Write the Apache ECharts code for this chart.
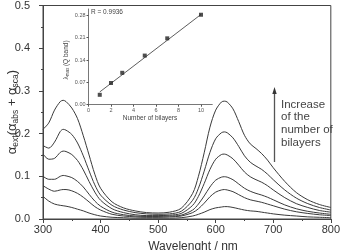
<!DOCTYPE html>
<html><head><meta charset="utf-8">
<script src="https://cdn.jsdelivr.net/npm/echarts@6/dist/echarts.min.js"></script>
<style>html,body{margin:0;padding:0;background:#fff}#c{width:343px;height:250px}</style>
</head><body><div id="c"></div>
<script>
var wavelengths = [300,310,320,330,335,340,350,360,370,380,390,400,420,440,460,480,500,520,540,560,570,580,590,600,610,615,620,630,640,650,660,670,680,690,700,720,740,760,780,800];
var curve1 = [0.053,0.042,0.035,0.032,0.031,0.030,0.027,0.023,0.019,0.014,0.010,0.007,0.004,0.003,0.002,0.002,0.002,0.002,0.003,0.007,0.011,0.016,0.022,0.026,0.028,0.029,0.029,0.027,0.024,0.021,0.019,0.018,0.016,0.014,0.012,0.009,0.007,0.005,0.004,0.003];
var curve2 = [0.078,0.070,0.065,0.068,0.069,0.069,0.066,0.060,0.051,0.040,0.029,0.021,0.011,0.007,0.005,0.004,0.004,0.005,0.007,0.015,0.024,0.037,0.052,0.063,0.068,0.069,0.068,0.064,0.057,0.050,0.045,0.042,0.039,0.035,0.031,0.023,0.017,0.013,0.010,0.008];
var curve3 = [0.100,0.093,0.093,0.100,0.102,0.101,0.097,0.088,0.075,0.058,0.042,0.030,0.016,0.010,0.007,0.006,0.006,0.007,0.009,0.021,0.035,0.054,0.075,0.091,0.098,0.099,0.098,0.092,0.082,0.072,0.065,0.060,0.056,0.051,0.045,0.033,0.024,0.018,0.014,0.011];
var curve4 = [0.152,0.140,0.142,0.156,0.159,0.158,0.151,0.137,0.115,0.088,0.063,0.044,0.024,0.015,0.010,0.008,0.008,0.009,0.013,0.032,0.053,0.083,0.116,0.140,0.151,0.152,0.150,0.141,0.126,0.110,0.099,0.092,0.086,0.078,0.068,0.050,0.036,0.027,0.020,0.016];
var curve5 = [0.172,0.166,0.180,0.205,0.210,0.208,0.198,0.178,0.148,0.113,0.080,0.056,0.032,0.021,0.015,0.012,0.011,0.012,0.018,0.044,0.072,0.112,0.156,0.188,0.202,0.204,0.202,0.190,0.170,0.148,0.133,0.124,0.116,0.105,0.092,0.068,0.049,0.036,0.027,0.021];
var curve6 = [0.210,0.225,0.255,0.275,0.278,0.275,0.260,0.235,0.195,0.150,0.105,0.072,0.040,0.026,0.019,0.015,0.014,0.016,0.025,0.060,0.100,0.155,0.215,0.255,0.274,0.276,0.274,0.258,0.228,0.196,0.176,0.165,0.153,0.138,0.120,0.088,0.062,0.045,0.034,0.027];
var bilayers = [1,2,3,5,7,10];
var lambdaMax = [0.031,0.068,0.100,0.154,0.208,0.282];
var fitX = [1,10];
var fitY = [0.040,0.283];
var mainXTicks = [300,400,500,600,700,800];
var mainYTicks = [0.0,0.1,0.2,0.3,0.4,0.5];
var insetXTicks = [0,2,4,6,8,10];
var insetYTicks = [0,0.07,0.14,0.21,0.28];

var FONT = '"Liberation Sans", Arial, sans-serif';
var TXT = '#333';
function zip(xs, ys){ return xs.map(function(x,i){ return [x, ys[i]]; }); }
var curves = [curve1,curve2,curve3,curve4,curve5,curve6];
var series = curves.map(function(c){
  return {type:'line', xAxisIndex:0, yAxisIndex:0, data: zip(wavelengths, c), symbol:'none', smooth:0.3,
    lineStyle:{color:'#3a3a3a', width:1}, silent:true, z:2};
});
series.push({type:'line', xAxisIndex:1, yAxisIndex:1, data: zip(fitX, fitY), symbol:'none',
  lineStyle:{color:'#333', width:0.8}, silent:true, z:3});
series.push({type:'scatter', xAxisIndex:1, yAxisIndex:1, data: zip(bilayers, lambdaMax), symbol:'rect', symbolSize:4,
  itemStyle:{color:'#222'}, silent:true, z:4});

var chart = echarts.init(document.getElementById('c'), null, {renderer:'canvas'});
chart.setOption({
  animation:false,
  backgroundColor:'#fff',
  grid:[
    {left:43, right:10, top:5, bottom:31, show:true, borderColor:'#444', borderWidth:1, backgroundColor:'transparent'},
    {left:88.5, top:9, width:123.75, height:95.7, show:false}
  ],
  xAxis:[
    {type:'value', gridIndex:0, min:300, max:800, interval:100,
     axisLine:{lineStyle:{color:'#444', width:1}},
     axisTick:{show:true, length:4, inside:false, lineStyle:{color:'#444'}},
     minorTick:{show:true, splitNumber:2, length:2, lineStyle:{color:'#444'}},
     splitLine:{show:false},
     axisLabel:{customValues: mainXTicks, fontSize:11, fontFamily:FONT, color:TXT, margin:5}},
    {type:'value', gridIndex:1, min:0, max:11,
     axisLine:{lineStyle:{color:'#555', width:0.8}},
     axisTick:{customValues: insetXTicks, length:2, lineStyle:{color:'#555'}},
     splitLine:{show:false},
     axisLabel:{customValues: insetXTicks, fontSize:5.5, fontFamily:FONT, color:'#555', margin:3}}
  ],
  yAxis:[
    {type:'value', gridIndex:0, min:0, max:0.5, interval:0.1,
     axisLine:{show:true, lineStyle:{color:'#444', width:1}},
     axisTick:{show:true, length:4, lineStyle:{color:'#444'}},
     minorTick:{show:true, splitNumber:2, length:2, lineStyle:{color:'#444'}},
     splitLine:{show:false},
     axisLabel:{customValues: mainYTicks, formatter:function(v){return v.toFixed(1);}, fontSize:11, fontFamily:FONT, color:TXT, margin:13}},
    {type:'value', gridIndex:1, min:0, max:0.3,
     axisLine:{show:true, lineStyle:{color:'#555', width:0.8}},
     axisTick:{customValues: insetYTicks, length:2, lineStyle:{color:'#555'}},
     splitLine:{show:false},
     axisLabel:{customValues: insetYTicks, formatter:function(v){return v.toFixed(2);}, fontSize:5.5, fontFamily:FONT, color:'#555', margin:3}}
  ],
  series: series,
  graphic:[
    {type:'text', x:12.5, y:112, rotation:Math.PI/2, z:10,
     style:{text:'{a|α}{s|ext}{a|(α}{s|abs}{a| + α}{s|sca}{a|)}', align:'center', verticalAlign:'middle',
       rich:{a:{fontSize:13, fontFamily:FONT, fill:TXT, lineHeight:16, verticalAlign:'middle'},
             s:{fontSize:8.5, fontFamily:FONT, fill:TXT, verticalAlign:'bottom'}}}},
    {type:'text', x:193, y:246.5, z:10,
     style:{text:'Wavelenght / nm', fontSize:12, fontFamily:FONT, fill:TXT, align:'center', verticalAlign:'middle'}},
    {type:'text', x:91, y:12.5, z:10,
     style:{text:'R = 0.9936', fontSize:6.5, fontFamily:FONT, fill:'#444', align:'left', verticalAlign:'middle'}},
    {type:'text', x:150, y:118, z:10,
     style:{text:'Number of bilayers', fontSize:6.5, fontFamily:FONT, fill:'#444', align:'center', verticalAlign:'middle'}},
    {type:'text', x:66, y:60, rotation:Math.PI/2, z:10,
     style:{text:'{a|λ}{s|max}{a| (Q band)}', align:'center', verticalAlign:'middle',
       rich:{a:{fontSize:6.5, fontFamily:FONT, fill:'#444', lineHeight:9, verticalAlign:'middle'},
             s:{fontSize:4.5, fontFamily:FONT, fill:'#444', verticalAlign:'bottom'}}}},
    {type:'line', z:10, shape:{x1:274.5, y1:93, x2:274.5, y2:162}, style:{stroke:'#555', lineWidth:1.3}},
    {type:'polygon', z:10, shape:{points:[[274.5,87],[272.3,94],[276.7,94]]}, style:{fill:'#333'}},
    {type:'text', x:281, y:98, z:10,
     style:{text:'Increase\nof the\nnumber of\nbilayers', fontSize:11.5, lineHeight:12.8, fontFamily:FONT, fill:'#444', align:'left', verticalAlign:'top'}}
  ]
});
</script></body></html>
